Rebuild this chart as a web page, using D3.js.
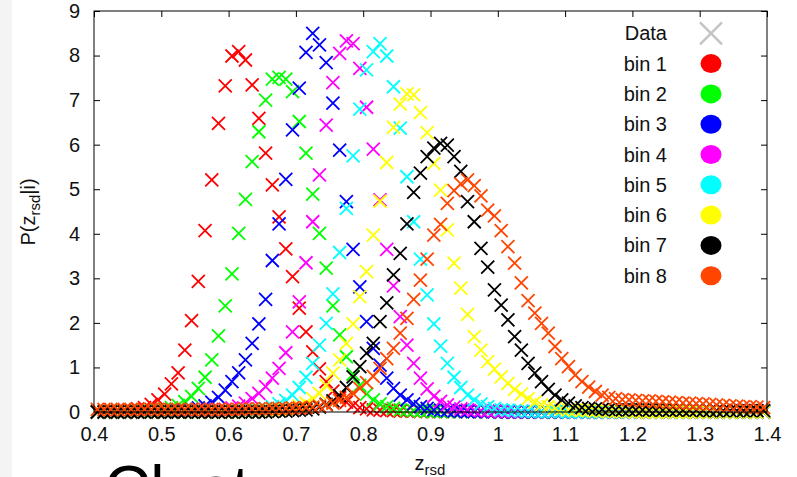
<!DOCTYPE html>
<html><head><meta charset="utf-8">
<script src="https://cdn.jsdelivr.net/npm/d3@7"></script>
<style>
body{margin:0;background:#fff;overflow:hidden;}
svg{display:block;font-family:"Liberation Sans",Arial,Helvetica,sans-serif;}
</style>
</head><body>
<svg id="chart" width="797" height="477"></svg>
<script>
// bin centres: binStart + binWidth*(i+0.5)
const binStart = 0.4, binWidth = 0.01;

const bin1 = [0.01,0.01,0.02,0.02,0.03,0.05,0.07,0.1,0.17,0.27,
  0.4,0.63,0.88,1.39,2.05,2.93,4.07,5.21,6.48,7.32,
  7.99,8.09,7.9,7.34,6.59,5.81,5.1,4.38,3.66,3.04,
  2.33,1.8,1.35,0.97,0.68,0.47,0.32,0.22,0.15,0.1,
  0.07,0.05,0.04,0.03,0.03,0.02,0.02,0.02,0.01,0.01,
  0.01,0.01,0.01,0.01,0.01,0.01,0.01,0.01,0.01,0.01,
  0,0,0,0,0,0,0,0,0,0, 0,0,0,0,0,0,0,0,0,0,
  0,0,0,0,0,0,0,0,0,0, 0,0,0,0,0,0,0,0,0,0];
const bin2 = [0,0,0,0,0.01,0.01,0.01,0.02,0.03,0.05,
  0.07,0.1,0.15,0.23,0.35,0.53,0.78,1.17,1.71,2.38,
  3.1,4.01,4.77,5.62,6.29,7.0,7.47,7.51,7.47,7.19,
  6.52,5.81,4.89,4.01,3.23,2.38,1.73,1.24,0.85,0.6,
  0.4,0.27,0.18,0.12,0.08,0.05,0.04,0.03,0.02,0.02,
  0.01,0.01,0.01,0.01,0.01,0.01,0.01,0.01,0.01,0.01,
  0,0,0,0,0,0,0,0,0,0, 0,0,0,0,0,0,0,0,0,0,
  0,0,0,0,0,0,0,0,0,0, 0,0,0,0,0,0,0,0,0,0];
const bin3 = [0,0,0,0,0,0,0,0.01,0.01,0.01,
  0.01,0.02,0.03,0.04,0.06,0.09,0.14,0.22,0.33,0.49,
  0.68,0.88,1.17,1.54,1.98,2.53,3.4,4.22,5.22,6.33,
  7.27,8.07,8.5,8.24,7.84,6.93,5.88,4.72,3.65,2.81,
  2.03,1.43,1.05,0.76,0.53,0.38,0.27,0.18,0.12,0.08,
  0.05,0.04,0.03,0.02,0.02,0.01,0.01,0.01,0.01,0.01,
  0,0,0,0,0,0,0,0,0,0, 0,0,0,0,0,0,0,0,0,0,
  0,0,0,0,0,0,0,0,0,0, 0,0,0,0,0,0,0,0,0,0];
const bin4 = [0,0,0,0,0,0,0,0,0,0,
  0,0,0,0,0.01,0.01,0.02,0.03,0.04,0.06,
  0.09,0.13,0.2,0.3,0.42,0.57,0.76,0.98,1.33,1.8,
  2.47,3.35,4.27,5.32,6.44,7.39,8.05,8.33,8.27,7.71,
  6.84,5.9,4.76,3.65,2.83,2.14,1.5,1.09,0.76,0.52,
  0.35,0.24,0.16,0.11,0.07,0.05,0.04,0.03,0.02,0.02,
  0.01,0.01,0.01,0.01,0.01,0.01,0.01,0.01,0.01,0.01,
  0,0,0,0,0,0,0,0,0,0, 0,0,0,0,0,0,0,0,0,0,
  0,0,0,0,0,0,0,0,0,0];
const bin5 = [0,0,0,0,0,0,0,0,0,0,
  0,0,0,0,0,0,0,0,0.01,0.01,
  0.01,0.02,0.03,0.04,0.05,0.08,0.12,0.18,0.26,0.38,
  0.55,0.78,1.09,1.5,1.99,2.65,3.58,4.57,5.75,6.8,
  7.68,8.09,8.27,7.99,7.3,6.37,5.28,4.27,3.43,2.63,
  1.98,1.48,1.09,0.78,0.55,0.38,0.27,0.18,0.12,0.08,
  0.05,0.04,0.03,0.02,0.02,0.01,0.01,0.01,0.01,0.01,
  0,0,0,0,0,0,0,0,0,0, 0,0,0,0,0,0,0,0,0,0,
  0,0,0,0,0,0,0,0,0,0];
const bin6 = [0,0,0,0,0,0,0,0,0,0,
  0,0,0,0,0,0,0,0,0,0,
  0,0,0.01,0.01,0.01,0.02,0.03,0.04,0.06,0.09,
  0.13,0.2,0.3,0.42,0.6,0.87,1.17,1.54,1.98,2.59,
  3.15,3.97,4.73,5.6,6.39,6.91,7.14,7.12,6.72,6.27,
  5.58,4.98,4.09,3.34,2.78,2.19,1.69,1.39,1.13,0.96,
  0.79,0.64,0.51,0.4,0.3,0.22,0.16,0.12,0.09,0.07,
  0.05,0.04,0.03,0.03,0.02,0.02,0.01,0.01,0.01,0.01,
  0,0,0,0,0,0,0,0,0,0, 0,0,0,0,0,0,0,0,0,0];
const bin7 = [0,0,0,0,0,0,0,0,0,0,
  0,0,0,0,0,0,0,0,0,0,
  0,0,0,0,0,0,0.01,0.02,0.02,0.03,
  0.04,0.05,0.07,0.11,0.17,0.25,0.37,0.55,0.79,1.02,
  1.32,1.54,2.03,2.45,3.08,3.56,4.22,4.93,5.36,5.73,
  5.92,6.03,5.99,5.73,5.4,4.72,4.27,3.67,3.25,2.74,
  2.4,2.07,1.69,1.39,1.09,0.87,0.68,0.51,0.38,0.27,
  0.2,0.14,0.1,0.08,0.07,0.06,0.06,0.05,0.05,0.05,
  0.05,0.05,0.04,0.04,0.04,0.04,0.04,0.04,0.04,0.04,
  0.03,0.03,0.03,0.03,0.03,0.03,0.03,0.03,0.03,0.03];
const bin8 = [0.06,0.06,0.06,0.06,0.06,0.06,0.06,0.06,0.06,0.06,
  0.06,0.06,0.06,0.06,0.06,0.06,0.06,0.06,0.06,0.06,
  0.06,0.06,0.07,0.07,0.07,0.07,0.08,0.08,0.08,0.09,
  0.09,0.1,0.11,0.13,0.16,0.2,0.26,0.33,0.42,0.53,
  0.66,0.8,0.98,1.2,1.43,1.77,2.1,2.53,2.96,3.43,
  3.97,4.21,4.68,4.97,5.12,5.21,5.08,4.85,4.53,4.4,
  4.07,3.71,3.34,2.9,2.5,2.22,1.99,1.77,1.47,1.2,
  1.02,0.83,0.68,0.56,0.46,0.38,0.33,0.3,0.28,0.27,
  0.26,0.25,0.25,0.24,0.23,0.22,0.21,0.2,0.2,0.19,
  0.18,0.17,0.16,0.15,0.14,0.13,0.12,0.12,0.11,0.1];

const seriesValues = [bin1, bin2, bin3, bin4, bin5, bin6, bin7, bin8];
const seriesNames = ["bin 1","bin 2","bin 3","bin 4","bin 5","bin 6","bin 7","bin 8"];
const seriesColors = ["#ff0000","#00ff00","#0000ff","#ff00ff","#00ffff","#ffff00","#000000","#ff4500"];
const xTicks = [0.4,0.5,0.6,0.7,0.8,0.9,1,1.1,1.2,1.3,1.4];
const xTickLabels = ["0.4","0.5","0.6","0.7","0.8","0.9","1","1.1","1.2","1.3","1.4"];
const yTicks = [0,1,2,3,4,5,6,7,8,9];

const W = 797, H = 477;
const svg = d3.select("#chart");
svg.append("rect").attr("width", W).attr("height", H).attr("fill", "#fff");
svg.append("rect").attr("width", 12).attr("height", H).attr("fill", "#f4f4f4");

const x = d3.scaleLinear().domain([0.4, 1.4]).range([94, 767]);
const y = d3.scaleLinear().domain([0, 9]).range([412, 11]);

// axes (inward ticks on all sides)
const fmt = (d, i) => xTickLabels[i];
const gB = svg.append("g").attr("transform", `translate(0,${y(0)})`)
  .call(d3.axisBottom(x).tickValues(xTicks).tickFormat(fmt).tickSize(-6).tickPadding(15));
const gT = svg.append("g").attr("transform", `translate(0,${y(9)})`)
  .call(d3.axisTop(x).tickValues(xTicks).tickFormat("").tickSize(-6));
const gL = svg.append("g").attr("transform", `translate(${x(0.4)},0)`)
  .call(d3.axisLeft(y).tickValues(yTicks).tickFormat(d3.format("d")).tickSize(-6).tickPadding(14));
const gR = svg.append("g").attr("transform", `translate(${x(1.4)},0)`)
  .call(d3.axisRight(y).tickValues(yTicks).tickFormat("").tickSize(-6));
[gB, gT, gL, gR].forEach(g => {
  g.select(".domain").remove();
  g.selectAll(".tick line").attr("stroke", "#000").attr("stroke-width", 1);
  g.selectAll(".tick text").attr("font-size", 20).attr("fill", "#111")
    .attr("font-family", '"Liberation Sans",Arial,sans-serif');
});

// data points
const cross = "M-6.5,-6.5L6.5,6.5M-6.5,6.5L6.5,-6.5";
seriesValues.forEach((vals, s) => {
  svg.append("g").selectAll("path").data(vals).join("path")
    .attr("d", cross)
    .attr("transform", (d, i) => `translate(${x(binStart + binWidth * (i + 0.5))},${y(d)})`)
    .attr("stroke", seriesColors[s]).attr("stroke-width", 1.8).attr("fill", "none");
});

// border
svg.append("rect").attr("x", x(0.4)).attr("y", y(9))
  .attr("width", x(1.4) - x(0.4)).attr("height", y(0) - y(9))
  .attr("fill", "none").attr("stroke", "#000").attr("stroke-width", 1);

// axis labels
const xl = svg.append("text").attr("x", 430).attr("y", 470).attr("text-anchor", "middle")
  .attr("font-size", 20).attr("fill", "#111");
xl.append("tspan").text("z");
xl.append("tspan").attr("font-size", 15).attr("dy", 5).text("rsd");

const yl = svg.append("text").attr("transform", "translate(35,212) rotate(-90)")
  .attr("text-anchor", "middle").attr("font-size", 20).attr("fill", "#111");
yl.append("tspan").text("P(z");
yl.append("tspan").attr("font-size", 15).attr("dy", 5).text("rsd");
yl.append("tspan").attr("dy", -5).text("|i)");

// legend
const legX = 667, legM = 711, legY0 = 33.3, legDy = 30.3;
const lg = svg.append("g");
lg.append("text").attr("x", legX).attr("y", legY0 + 7).attr("text-anchor", "end")
  .attr("font-size", 20).attr("fill", "#111").text("Data");
lg.append("path").attr("d", "M-11,-11L11,11M-11,11L11,-11")
  .attr("transform", `translate(${legM},${legY0})`)
  .attr("stroke", "#c4c4c4").attr("stroke-width", 2.5).attr("fill", "none");
seriesNames.forEach((n, i) => {
  const cy = legY0 + legDy * (i + 1);
  lg.append("text").attr("x", legX).attr("y", cy + 7).attr("text-anchor", "end")
    .attr("font-size", 20).attr("fill", "#111").text(n);
  lg.append("ellipse").attr("cx", legM).attr("cy", cy).attr("rx", 10.5).attr("ry", 9.5)
    .attr("fill", seriesColors[i]);
});

// top of the slide caption below the chart (cut off by the picture edge)
svg.append("text").attr("x", 104).attr("y", 511).attr("font-size", 64)
  .attr("fill", "#000").text("Clust");
</script>
</body></html>
